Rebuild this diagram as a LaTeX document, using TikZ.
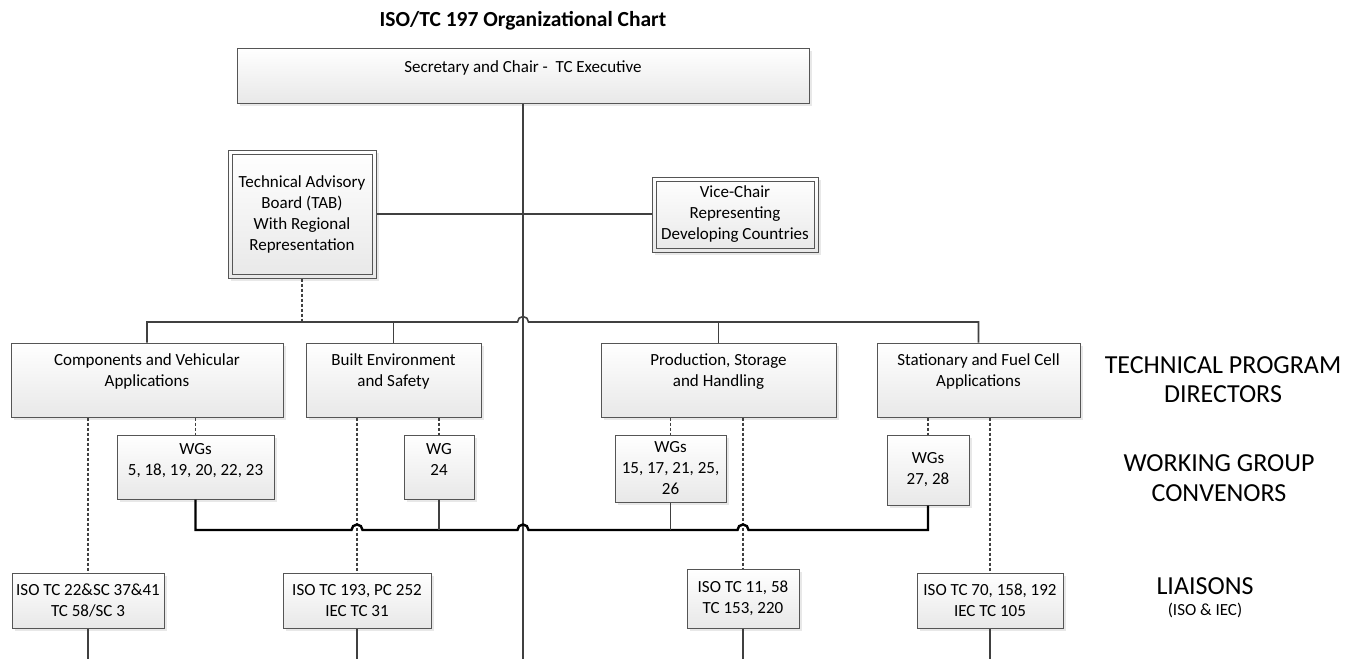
\documentclass[tikz,border=0pt]{standalone}
\usepackage{fontspec}
\setmainfont{Carlito}
\usepackage{xcolor}
\usepackage{tikz}
\usetikzlibrary{positioning, shadows}
\definecolor{linegray}{HTML}{404040}
\definecolor{boxgray}{HTML}{555555}
\newcommand{\bodyfont}{\fontsize{17}{21}\selectfont}
\newcommand{\sidefont}{\fontsize{26}{29.5}\selectfont}
\tikzset{
    block/.style={
        draw = boxgray, line width = 1pt,
        top color = white, bottom color = black!9,
        drop shadow = {shadow xshift = 3pt, shadow yshift = -3pt, opacity = 0.18},
        inner sep = 0pt,
        align = center,
        font = \bodyfont
    },
    dblock/.style = {block,
        path picture = {\draw[boxgray, line width = 0.9pt]
            ([shift={(4pt,4pt)}]path picture bounding box.south west) rectangle
            ([shift={(-4pt,-4pt)}]path picture bounding box.north east);}
    },
    toptext/.style = {anchor = north, inner sep = 0pt, align = center, font = \bodyfont, yshift = -#1pt},
    line/.style = {draw = linegray, line width = 1.6pt},
    dline/.style = {draw = linegray, line width = 1.2pt, dash pattern = on 3pt off 2pt},
    busline/.style = {draw = black, line width = 2.4pt},
    side/.style = {align = center, inner sep = 0pt, font = \sidefont}
}

\begin{document}
\begin{tikzpicture}[x=1pt, y=-1pt]
    \useasboundingbox (0,0) rectangle (1357,659);

    \node[font = \bfseries\fontsize{21.5}{25}\selectfont] (title) at (523,21) {ISO/TC 197 Organizational Chart};

    % Top blocks
    \node[block, minimum width = 572, minimum height = 55,
        label = {[toptext = 13]north:Secretary and Chair -~ TC Executive}] (sec) at (523,75.5) {};
    \node[dblock, minimum width = 148, minimum height = 128] (tab) at (302,214)
        {Technical Advisory\\Board (TAB)\\With Regional\\Representation};
    \node[dblock, minimum width = 166, minimum height = 75] (vice) at (735,214.5)
        {Vice-Chair\\Representing\\Developing Countries};

    % Program directors
    \node[block, minimum width = 272, minimum height = 74,
        label = {[toptext = 11]north:Components and Vehicular\\Applications}] (comp) at (147,380) {};
    \node[block, minimum width = 175, minimum height = 74,
        label = {[toptext = 11]north:Built Environment\\and Safety}] (built) at (393.5,380) {};
    \node[block, minimum width = 235, minimum height = 74,
        label = {[toptext = 11]north:Production, Storage\\and Handling}] (prod) at (718.5,380) {};
    \node[block, minimum width = 203, minimum height = 74,
        label = {[toptext = 11]north:Stationary and Fuel Cell\\Applications}] (stat) at (978.5,380) {};

    % Working groups
    \node[block, minimum width = 157, minimum height = 64,
        label = {[toptext = 8.5]north:WGs\\5, 18, 19, 20, 22, 23}] (wg1) at (195.5,467) {};
    \node[block, minimum width = 70, minimum height = 64,
        label = {[toptext = 8.5]north:WG\\24}] (wg2) at (439,467) {};
    \node[block, minimum width = 111, minimum height = 67] (wg3) at (670.5,468.5) {WGs\\15, 17, 21, 25,\\26};
    \node[block, minimum width = 82, minimum height = 70] (wg4) at (928,470) {WGs\\27, 28};

    % Liaisons
    \node[block, minimum width = 152, minimum height = 55] (lia1) at (88,600.5) {ISO TC 22\&SC 37\&41\\TC 58/SC 3};
    \node[block, minimum width = 148, minimum height = 55] (lia2) at (357,600.5) {ISO TC 193, PC 252\\IEC TC 31};
    \node[block, minimum width = 112, minimum height = 59] (lia3) at (743,598.5) {ISO TC 11, 58\\TC 153, 220};
    \node[block, minimum width = 146, minimum height = 55] (lia4) at (990,600.5) {ISO TC 70, 158, 192\\IEC TC 105};

    % Side captions
    \node[side] (tpd) at (1223,379.5) {TECHNICAL PROGRAM\\DIRECTORS};
    \node[side] (wgc) at (1219,478) {WORKING GROUP\\CONVENORS};
    \node[side] (liai) at (1205,586) {LIAISONS};
    \node[below = 8pt of liai, inner sep = 0pt, font = \fontsize{17}{20}\selectfont] (liaisub) {(ISO \& IEC)};

    \coordinate (hub) at (523,322);
    \coordinate (wgbus) at (523,530);
    \coordinate (bot) at (523,659);

    % Lines
    \draw[line] (sec.south) -- (bot);
    \draw[line] (tab.east) -- (tab.east -| vice.west);
    \draw[dline] (tab.south) -- (tab.south |- hub);
    \draw[line] (comp.north) -- (comp.north |- hub) -- ([xshift=-5.5pt]hub)
        arc[start angle=180, end angle=0, radius=5.5pt] -- (stat.north |- hub) -- (stat.north);
    \draw[line] (built.north) -- (built.north |- hub);
    \draw[line] (prod.north) -- (prod.north |- hub);

    % Dotted links down from directors
    \draw[dline] (lia1.north |- comp.south) -- (lia1.north);
    \draw[dline] (wg1.north |- comp.south) -- (wg1.north);
    \draw[dline] (lia2.north |- built.south) -- (lia2.north);
    \draw[dline] (wg2.north |- built.south) -- (wg2.north);
    \draw[dline] (wg3.north |- prod.south) -- (wg3.north);
    \draw[dline] (lia3.north |- prod.south) -- (lia3.north);
    \draw[dline] (wg4.north |- stat.south) -- (wg4.north);
    \draw[dline] (lia4.north |- stat.south) -- (lia4.north);

    % Working group bus
    \draw[busline] (wg1.south) -- (wg1.south |- wgbus)
        -- ([xshift=-5.5pt]lia2.north |- wgbus) arc[start angle=180, end angle=0, radius=5.5pt]
        -- ([xshift=-5.5pt]wgbus) arc[start angle=180, end angle=0, radius=5.5pt]
        -- ([xshift=-5.5pt]lia3.north |- wgbus) arc[start angle=180, end angle=0, radius=5.5pt]
        -- (wg4.south |- wgbus) -- (wg4.south);
    \draw[line] (wg2.south) -- (wg2.south |- wgbus);
    \draw[line] (wg3.south) -- (wg3.south |- wgbus);

    % Down from liaisons
    \draw[line] (lia1.south) -- (lia1.south |- bot);
    \draw[line] (lia2.south) -- (lia2.south |- bot);
    \draw[line] (lia3.south) -- (lia3.south |- bot);
    \draw[line] (lia4.south) -- (lia4.south |- bot);
\end{tikzpicture}
\end{document}
